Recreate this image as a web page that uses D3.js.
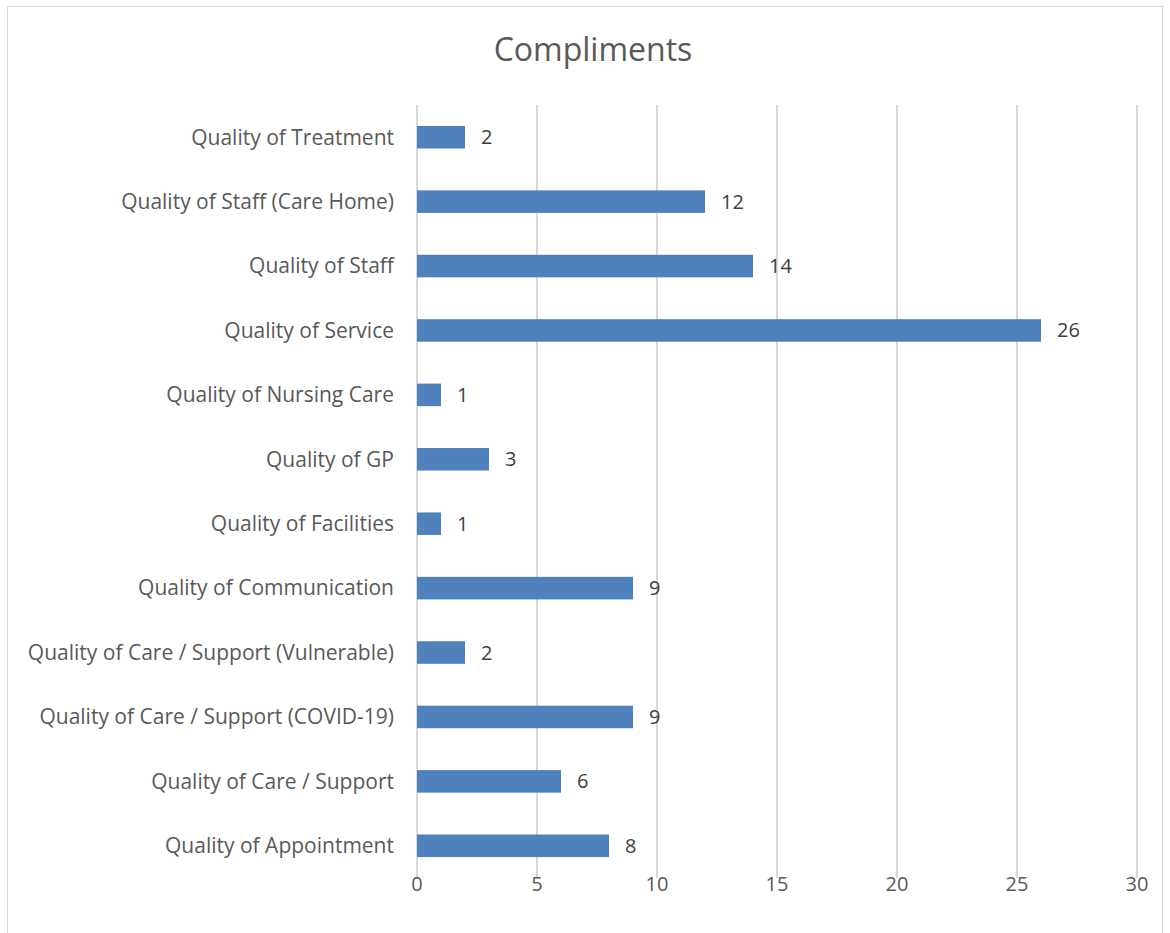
<!DOCTYPE html>
<html>
<head>
<meta charset="utf-8">
<script src="https://cdn.jsdelivr.net/npm/d3@7"></script>
<style>
  body { margin: 0; background: #fff; }
  svg text { font-family: "Open Sans", "Noto Sans", sans-serif; }
</style>
</head>
<body>
<svg id="chart" width="1170" height="933"></svg>
<script>
// categories from bottom to top, as drawn
const categories = [
  "Quality of Appointment",
  "Quality of Care / Support",
  "Quality of Care / Support (COVID-19)",
  "Quality of Care / Support (Vulnerable)",
  "Quality of Communication",
  "Quality of Facilities",
  "Quality of GP",
  "Quality of Nursing Care",
  "Quality of Service",
  "Quality of Staff",
  "Quality of Staff (Care Home)",
  "Quality of Treatment"
];
const values = [8, 6, 9, 2, 9, 1, 3, 1, 26, 14, 12, 2];
const xTicks = [0, 5, 10, 15, 20, 25, 30];

const margin = {left: 417, top: 105};

const svg = d3.select("#chart");

// chart border
svg.append("rect")
  .attr("x", 7.5).attr("y", 6.5)
  .attr("width", 1155).attr("height", 935)
  .attr("fill", "none")
  .attr("stroke", "#d9d9d9")
  .attr("stroke-width", 1);

svg.append("text")
  .attr("x", 593).attr("y", 61)
  .attr("text-anchor", "middle")
  .attr("font-size", 32)
  .attr("fill", "#595959")
  .text("Compliments");

const x = d3.scaleLinear().domain([0, 30]).range([margin.left, 1137]);
const y = d3.scaleBand()
  .domain(categories.slice().reverse())
  .range([margin.top, 878])
  .paddingInner(0.65).paddingOuter(0.325);

// gridlines
svg.append("g")
  .selectAll("line")
  .data(xTicks)
  .join("line")
  .attr("x1", d => x(d)).attr("x2", d => x(d))
  .attr("y1", margin.top).attr("y2", 878)
  .attr("stroke", "#d9d9d9")
  .attr("stroke-width", 2);

// x tick labels
svg.append("g")
  .selectAll("text")
  .data(xTicks)
  .join("text")
  .attr("x", d => x(d))
  .attr("y", 884)
  .attr("dy", "0.35em")
  .attr("text-anchor", "middle")
  .attr("font-size", 20)
  .attr("fill", "#595959")
  .text(d => d);

const data = categories.map((c, i) => ({name: c, value: values[i]}));

svg.append("g")
  .selectAll("rect")
  .data(data)
  .join("rect")
  .attr("x", x(0))
  .attr("y", d => y(d.name))
  .attr("width", d => x(d.value) - x(0))
  .attr("height", y.bandwidth())
  .attr("fill", "#4f81bd");

// value labels
svg.append("g")
  .selectAll("text")
  .data(data)
  .join("text")
  .attr("x", d => x(d.value) + 16)
  .attr("y", d => y(d.name) + y.bandwidth() / 2)
  .attr("dy", "0.35em")
  .attr("font-size", 20)
  .attr("fill", "#404040")
  .text(d => d.value);

// category labels
svg.append("g")
  .selectAll("text")
  .data(data)
  .join("text")
  .attr("x", 394)
  .attr("y", d => y(d.name) + y.bandwidth() / 2)
  .attr("dy", "0.35em")
  .attr("text-anchor", "end")
  .attr("font-size", 21)
  .attr("fill", "#595959")
  .text(d => d.name);
</script>
</body>
</html>
